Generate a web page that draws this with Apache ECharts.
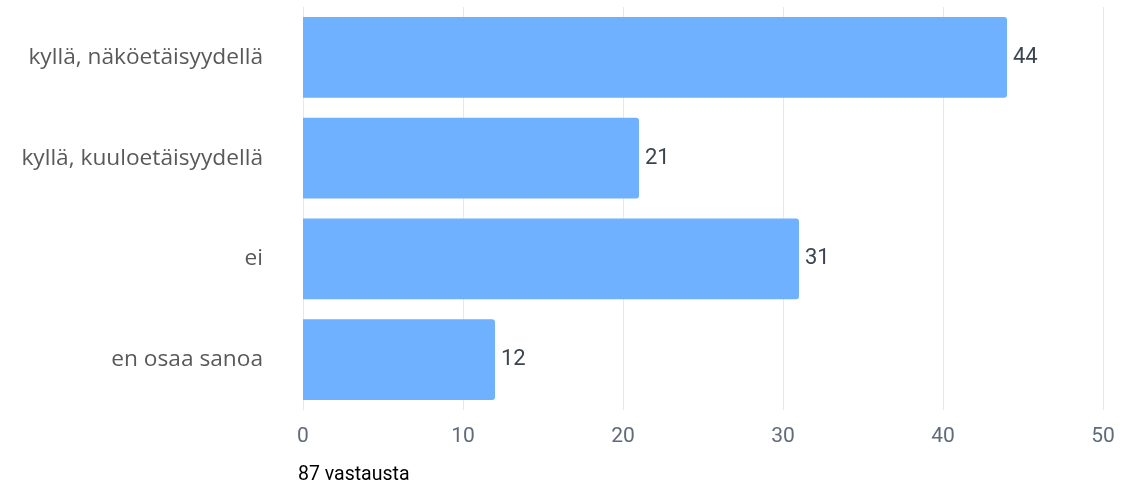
<!DOCTYPE html>
<html><head><meta charset="utf-8">
<script src="https://cdn.jsdelivr.net/npm/echarts@6/dist/echarts.min.js"></script>
<style>html,body{margin:0;padding:0;background:#fff}#c{width:1142px;height:484px}</style>
</head><body><div id="c"></div>
<script>
const categories = ["kyllä, näköetäisyydellä", "kyllä, kuuloetäisyydellä", "ei", "en osaa sanoa"];
const values = [44, 21, 31, 12];
const xTicks = [0, 10, 20, 30, 40, 50];
const footnote = "87 vastausta";

const chart = echarts.init(document.getElementById('c'));
chart.setOption({
  animation: false,
  grid: {left: 303, right: 39, top: 7, bottom: 74, containLabel: false},
  xAxis: {
    type: 'value', min: xTicks[0], max: xTicks[xTicks.length-1], interval: 10,
    axisLine: {show: false}, axisTick: {show: false},
    splitLine: {lineStyle: {color: '#e6e8eb', width: 1}},
    axisLabel: {color: '#5f6b7a', fontSize: 21, fontFamily: 'Roboto', margin: 16}
  },
  yAxis: {
    type: 'category', data: categories, inverse: true,
    axisLine: {show: true, lineStyle: {color: '#e6e8eb'}}, axisTick: {show: false},
    axisLabel: {color: '#595959', fontSize: 22.7, fontFamily: 'Open Sans', margin: 40}
  },
  graphic: [{type: 'text', left: 298, top: 465, style: {text: footnote, fontSize: 19.5, fontFamily: 'Roboto', fill: '#000'}}],
  series: [{
    type: 'bar', data: values, barCategoryGap: '20%',
    itemStyle: {color: '#6fb0ff', borderRadius: [0, 3, 3, 0]},
    label: {show: true, position: 'right', distance: 6, color: '#3c4450', fontSize: 22, fontFamily: 'Roboto'}
  }]
});
</script></body></html>
